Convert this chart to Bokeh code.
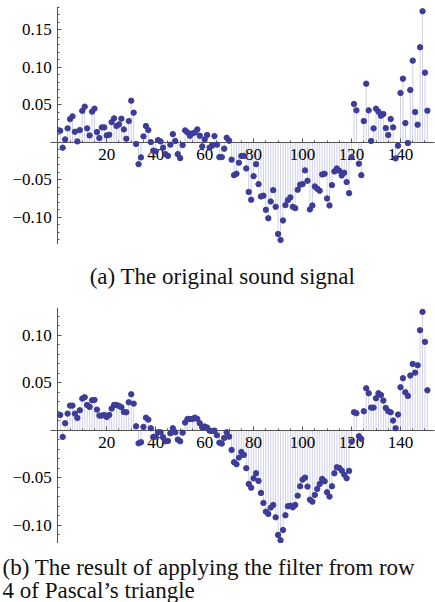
from bokeh.plotting import figure
from bokeh.layouts import column
from bokeh.models import FixedTicker, Label, ColumnDataSource
from bokeh.embed import file_html
from bokeh.resources import INLINE

# ---------------- data ----------------
sample_index = list(range(1, 152))

original_signal = [
    0.0156, -0.0071, 0.0040, 0.0187, 0.0310, 0.0347, 0.0142, 0.0013, 0.0164, 0.0420,
    0.0476, 0.0187, 0.0093, 0.0410, 0.0450, 0.0138, 0.0058, 0.0200, 0.0200, 0.0093,
    0.0102, 0.0270, 0.0320, 0.0218, 0.0240, 0.0316, 0.0173, 0.0049, 0.0284, 0.0556,
    0.0396, -0.0020, -0.0290, -0.0200, 0.0080, 0.0218, 0.0164, 0.0004, -0.0110, -0.0120,
    0.0030, 0.0013, -0.0070, -0.0156, -0.0180, -0.0030, 0.0110, 0.0018, -0.0156, -0.0210,
    -0.0036, 0.0160, 0.0133, 0.0089, 0.0120, 0.0133, 0.0173, 0.0089, -0.0053, 0.0040,
    0.0098, -0.0070, -0.0044, 0.0084, -0.0030, -0.0196, -0.0196, -0.0084, 0.0062, 0.0022,
    -0.0230, -0.0436, -0.0418, -0.0270, -0.0180, -0.0180, -0.0347, -0.0660, -0.0764, -0.0450,
    -0.0290, -0.0556, -0.0720, -0.0710, -0.0898, -0.1010, -0.0787, -0.0636, -0.0858, -0.1220,
    -0.1300, -0.1040, -0.0836, -0.0770, -0.0733, -0.0858, -0.0876, -0.0631, -0.0564, -0.0556,
    -0.0373, -0.0511, -0.0893, -0.0840, -0.0587, -0.0618, -0.0644, -0.0427, -0.0418, -0.0747,
    -0.0840, -0.0569, -0.0387, -0.0347, -0.0378, -0.0440, -0.0404, -0.0529, -0.0676, -0.0196,
    0.0511, 0.0427, -0.0284, -0.0436, 0.0284, 0.0782, 0.0427, 0.0018, 0.0187, 0.0449,
    0.0409, 0.0356, 0.0378, 0.0191, 0.0098, 0.0311, 0.0200, -0.0213, -0.0044, 0.0658,
    0.0849, 0.0258, -0.0009, 0.0698, 0.1089, 0.0404, 0.0236, 0.1267, 0.1747, 0.0929,
    0.0422,
]

filtered_signal = [
    0.0161, -0.0070, 0.0074, 0.0175, 0.0259, 0.0259, 0.0175, 0.0130, 0.0210, 0.0333,
    0.0347, 0.0266, 0.0245, 0.0315, 0.0319, 0.0217, 0.0154, 0.0154, 0.0161, 0.0140,
    0.0161, 0.0228, 0.0266, 0.0266, 0.0256, 0.0242, 0.0193, 0.0189, 0.0294, 0.0378,
    0.0280, 0.0042, -0.0137, -0.0126, 0.0035, 0.0133, 0.0112, 0.0021, -0.0070, -0.0067,
    -0.0021, -0.0021, -0.0074, -0.0116, -0.0112, -0.0032, 0.0021, -0.0021, -0.0098, -0.0116,
    -0.0025, 0.0081, 0.0119, 0.0119, 0.0119, 0.0133, 0.0119, 0.0074, 0.0032, 0.0039,
    0.0028, -0.0004, -0.0007, -0.0004, -0.0053, -0.0130, -0.0140, -0.0081, -0.0021, -0.0067,
    -0.0207, -0.0336, -0.0357, -0.0287, -0.0228, -0.0259, -0.0399, -0.0564, -0.0603, -0.0505,
    -0.0452, -0.0533, -0.0659, -0.0764, -0.0855, -0.0879, -0.0813, -0.0785, -0.0915, -0.1100,
    -0.1156, -0.1048, -0.0893, -0.0799, -0.0792, -0.0810, -0.0785, -0.0687, -0.0589, -0.0519,
    -0.0498, -0.0592, -0.0729, -0.0750, -0.0680, -0.0617, -0.0564, -0.0512, -0.0536, -0.0652,
    -0.0697, -0.0589, -0.0452, -0.0389, -0.0396, -0.0424, -0.0466, -0.0505, -0.0427, -0.0120,
    0.0189, 0.0179, -0.0063, -0.0091, 0.0200, 0.0441, 0.0389, 0.0238, 0.0238, 0.0336,
    0.0389, 0.0371, 0.0312, 0.0235, 0.0200, 0.0189, 0.0102, 0.0021, 0.0165, 0.0452,
    0.0547, 0.0399, 0.0361, 0.0575, 0.0697, 0.0606, 0.0683, 0.1051, 0.1244, 0.0929,
    0.0420,
]

x_major_ticks = [20, 40, 60, 80, 100, 120, 140]
x_tick_labels = ["20", "40", "60", "80", "100", "120", "140"]
x_minor_ticks = [k for k in range(5, 155, 5) if k % 20 != 0]

a_y_major_ticks = [-0.10, -0.05, 0.05, 0.10, 0.15]
a_y_tick_labels = ["\u22120.10", "\u22120.05", "0.05", "0.10", "0.15"]
b_y_major_ticks = [-0.10, -0.05, 0.05, 0.10]
b_y_tick_labels = ["\u22120.10", "\u22120.05", "0.05", "0.10"]

caption_a = "(a) The original sound signal"
caption_b_line1 = "(b) The result of applying the filter from row"
caption_b_line2 = "4 of Pascal\u2019s triangle"

# ---------------- style ----------------
DOT = "#3d3d99"
STEM = "#d0d0e8"
AXIS = "#555555"
FONT = "Liberation Serif"
CAPTION_SIZE = "23px"


def make_panel(values, y_start, y_end, y_ticks, y_labels, height, border_top):
    # the frame spans the full width; the axes sit at x = 0 and y = 0 inside it
    p = figure(width=435, height=height, x_range=(-23.4, 154.3), y_range=(y_start, y_end),
               output_backend="svg", toolbar_location=None,
               min_border_left=0, min_border_right=0,
               min_border_top=border_top, min_border_bottom=0)
    p.grid.visible = False
    p.outline_line_color = None
    p.background_fill_color = "white"
    p.border_fill_color = "white"

    src = ColumnDataSource(dict(x=sample_index, y=values, base=[0.0] * len(values)))
    p.segment(x0="x", y0="base", x1="x", y1="y", source=src, line_color=STEM, line_width=1)

    xa = p.xaxis[0]
    xa.fixed_location = 0
    xa.bounds = (-3, 154)
    xa.ticker = FixedTicker(ticks=x_major_ticks, minor_ticks=x_minor_ticks)
    xa.major_label_overrides = dict(zip(x_major_ticks, x_tick_labels))
    ya = p.yaxis[0]
    ya.fixed_location = 0
    ya.bounds = (y_start, y_end)
    minor_y = [round(k * 0.01, 2) for k in range(-14, 19) if k % 5 != 0]
    ya.ticker = FixedTicker(ticks=y_ticks, minor_ticks=minor_y)
    ya.major_label_overrides = dict(zip(y_ticks, y_labels))

    for ax in (xa, ya):
        ax.axis_line_color = AXIS
        ax.axis_line_width = 1
        ax.major_tick_line_color = AXIS
        ax.minor_tick_line_color = AXIS
        ax.major_tick_in = 4
        ax.major_tick_out = 0
        ax.minor_tick_in = 2
        ax.minor_tick_out = 0
        ax.major_label_text_font = FONT
        ax.major_label_text_font_size = "17px"
        ax.major_label_text_color = "#000000"
    xa.major_label_standoff = 7
    ya.major_label_standoff = 6

    p.scatter(x="x", y="y", source=src, size=5.4, fill_color=DOT, line_color=DOT, level="overlay")
    return p


def make_caption(height, lines):
    c = figure(width=435, height=height, x_range=(0, 435), y_range=(0, height),
               output_backend="svg", toolbar_location=None,
               x_axis_location=None, y_axis_location=None,
               min_border=0, min_border_left=0, min_border_right=0,
               min_border_top=0, min_border_bottom=0)
    c.grid.visible = False
    c.outline_line_color = None
    c.background_fill_color = "white"
    c.border_fill_color = "white"
    for text, x, y, align in lines:
        c.add_layout(Label(x=x, y=y, x_units="screen", y_units="screen", text=text,
                           text_align=align, text_baseline="alphabetic",
                           text_font=FONT, text_font_size=CAPTION_SIZE, text_color="#111111"))
    return c


p_a = make_panel(original_signal, -0.136, 0.181, a_y_major_ticks, a_y_tick_labels, 244, 6)
cap_a = make_caption(51, [(caption_a, 222, 19, "center")])
p_b = make_panel(filtered_signal, -0.119, 0.129, b_y_major_ticks, b_y_tick_labels, 248, 12)
cap_b = make_caption(59, [(caption_b_line1, 2, 35, "left"), (caption_b_line2, 2, 12.5, "left")])

layout = column(p_a, cap_a, p_b, cap_b, spacing=0)
open("out.html", "w").write(file_html(layout, INLINE))
